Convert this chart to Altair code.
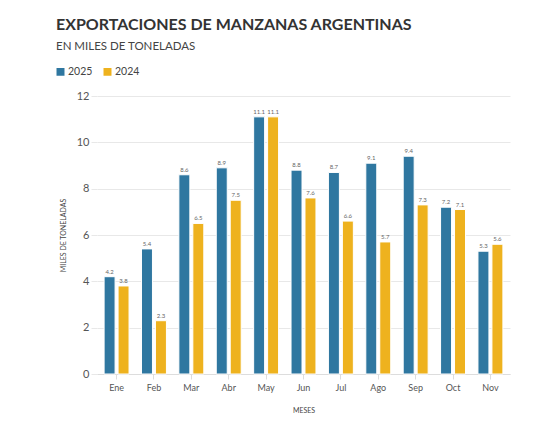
import pandas as pd
import altair as alt

meses = ["Ene", "Feb", "Mar", "Abr", "May", "Jun", "Jul", "Ago", "Sep", "Oct", "Nov"]
valores_2025 = [4.2, 5.4, 8.6, 8.9, 11.1, 8.8, 8.7, 9.1, 9.4, 7.2, 5.3]
valores_2024 = [3.8, 2.3, 6.5, 7.5, 11.1, 7.6, 6.6, 5.7, 7.3, 7.1, 5.6]
anios = ["2025", "2024"]
colores = ["#2f77a0", "#eeb21e"]

df = pd.concat([
    pd.DataFrame({"mes": meses, "anio": "2025", "valor": valores_2025}),
    pd.DataFrame({"mes": meses, "anio": "2024", "valor": valores_2024}),
])

FONT = "Lato"

base = alt.Chart(df).encode(
    x=alt.X("mes:N", sort=meses, title="MESES",
            scale=alt.Scale(paddingInner=0.333, paddingOuter=0.19),
            axis=alt.Axis(labelAngle=0, labelFontSize=9, labelColor="#555",
                          titleFontSize=7, titleFontWeight="normal", titleColor="#444",
                          titlePadding=14, domainColor="#ddd", tickColor="#ddd",
                          tickSize=5, labelPadding=4)),
    xOffset=alt.XOffset("anio:N", sort=anios,
                        scale=alt.Scale(paddingInner=0.214, paddingOuter=0)),
    y=alt.Y("valor:Q", title="MILES DE TONELADAS",
            scale=alt.Scale(domain=[0, 12]),
            axis=alt.Axis(values=[0, 2, 4, 6, 8, 10, 12], labelFontSize=11,
                          labelColor="#555", titleFontSize=7, titleFontWeight="normal",
                          titleColor="#444", titlePadding=10, domain=False,
                          gridColor="#e8e8e8", tickColor="#e8e8e8", tickSize=6,
                          labelPadding=2)),
)

barras = base.mark_bar(stroke="white", strokeWidth=1).encode(
    color=alt.Color("anio:N", sort=anios,
                    scale=alt.Scale(domain=anios, range=colores),
                    legend=alt.Legend(title=None, orient="none", direction="horizontal",
                                      legendX=-42, legendY=-30, symbolType="square",
                                      symbolSize=90, symbolOpacity=1, labelFontSize=10.5,
                                      labelColor="#444", columnPadding=6, labelOffset=2)),
)

etiquetas = base.mark_text(dy=-5, fontSize=6, color="#666").encode(
    text=alt.Text("valor:Q", format=".1f"),
)

chart = alt.layer(barras, etiquetas).properties(
    width=413,
    height=278,
    autosize="none",
    padding={"left": 89, "top": 88, "right": 17, "bottom": 44},
    title=alt.TitleParams(
        "EXPORTACIONES DE MANZANAS ARGENTINAS",
        subtitle="EN MILES DE TONELADAS",
        anchor="start", frame="group", dx=-41,
        fontSize=16, fontWeight="bold", color="#333", font=FONT,
        subtitleFontSize=11.5, subtitleColor="#444", subtitleFont=FONT,
        subtitlePadding=8, offset=14,
    ),
).configure(font=FONT).configure_view(stroke=None)

chart.save("out.html", embed_options={"renderer": "svg", "actions": False})
